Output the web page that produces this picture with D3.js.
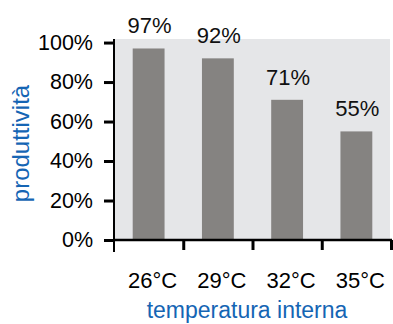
<!DOCTYPE html>
<html>
<head>
<meta charset="utf-8">
<script src="https://cdn.jsdelivr.net/npm/d3@7"></script>
<style>
  html, body { margin: 0; padding: 0; background: #ffffff; }
  svg { display: block; }
  text { font-family: "Liberation Sans", Arial, Helvetica, sans-serif; }
</style>
</head>
<body>
<svg id="chart" width="393" height="324"></svg>
<script>
// Productivity by indoor temperature
const categories = ["26°C", "29°C", "32°C", "35°C"];
const productivity = [97, 92, 71, 55];
const yTicks = [0, 20, 40, 60, 80, 100];
const yTitle = "produttività";
const xTitle = "temperatura interna";

const svg = d3.select("#chart");
const plotLeft = 114, plotRight = 391, plotTop = 39, plotBottom = 240;
const blue = "#1565b4";
const fontFamily = "Liberation Sans, Arial, Helvetica, sans-serif";

const x = d3.scaleBand()
  .domain(categories)
  .range([plotLeft, plotRight])
  .paddingInner(0.54)
  .paddingOuter(0.27);

const y = d3.scaleLinear()
  .domain([0, 101.8])
  .range([plotBottom, plotTop]);

// plot background
svg.append("rect")
  .attr("x", plotLeft)
  .attr("y", y(101.8))
  .attr("width", plotRight - 1 - plotLeft)
  .attr("height", y(0) - y(101.8))
  .attr("fill", "#e5e6e8");

// bars
svg.append("g").selectAll("rect")
  .data(productivity)
  .join("rect")
  .attr("x", (d, i) => x(categories[i]))
  .attr("y", d => y(d))
  .attr("width", x.bandwidth())
  .attr("height", d => y(0) - y(d))
  .attr("fill", "#858381");

// value labels above bars
svg.append("g").selectAll("text")
  .data(productivity)
  .join("text")
  .attr("x", (d, i) => x(categories[i]) + x.bandwidth() / 2 + 1)
  .attr("y", d => y(d) - 15)
  .attr("text-anchor", "middle")
  .attr("font-size", 22)
  .attr("fill", "#111")
  .text(d => d + "%");

// y axis
const yAxis = svg.append("g")
  .attr("transform", `translate(${plotLeft},0)`)
  .call(d3.axisLeft(y).tickValues(yTicks).tickFormat(d => d + "%").tickSize(10).tickPadding(11));
yAxis.select(".domain").remove();
yAxis.selectAll(".tick line").attr("stroke", "#000").attr("stroke-width", 3);
yAxis.selectAll(".tick text").attr("font-size", 21.5).attr("fill", "#000")
  .attr("font-family", fontFamily);
svg.append("line")
  .attr("x1", plotLeft).attr("x2", plotLeft)
  .attr("y1", plotTop).attr("y2", plotBottom + 12)
  .attr("stroke", "#000").attr("stroke-width", 2);

// x axis: ticks sit on the boundaries between categories
const boundary = d3.scaleLinear().domain([0, categories.length]).range([plotLeft, plotRight]);
const xTicksG = svg.append("g")
  .attr("transform", `translate(0,${plotBottom})`)
  .call(d3.axisBottom(boundary).tickValues(d3.range(1, categories.length + 1)).tickFormat("").tickSize(10));
xTicksG.select(".domain").remove();
xTicksG.selectAll(".tick line").attr("stroke", "#000").attr("stroke-width", 3);
svg.append("line")
  .attr("x1", plotLeft).attr("x2", plotRight + 1)
  .attr("y1", plotBottom).attr("y2", plotBottom)
  .attr("stroke", "#000").attr("stroke-width", 2.5);

const xLabels = svg.append("g")
  .attr("transform", `translate(0,${plotBottom})`)
  .call(d3.axisBottom(x).tickSize(0).tickPadding(32));
xLabels.select(".domain").remove();
xLabels.selectAll(".tick text").attr("font-size", 22).attr("fill", "#000").attr("dx", 4)
  .attr("font-family", fontFamily);

// axis titles
svg.append("text")
  .attr("transform", `translate(29,${(plotTop + plotBottom) / 2 + 4}) rotate(-90)`)
  .attr("text-anchor", "middle")
  .attr("font-size", 24)
  .attr("fill", blue)
  .text(yTitle);

svg.append("text")
  .attr("x", 247)
  .attr("y", 318)
  .attr("text-anchor", "middle")
  .attr("font-size", 23)
  .attr("fill", blue)
  .text(xTitle);
</script>
</body>
</html>
